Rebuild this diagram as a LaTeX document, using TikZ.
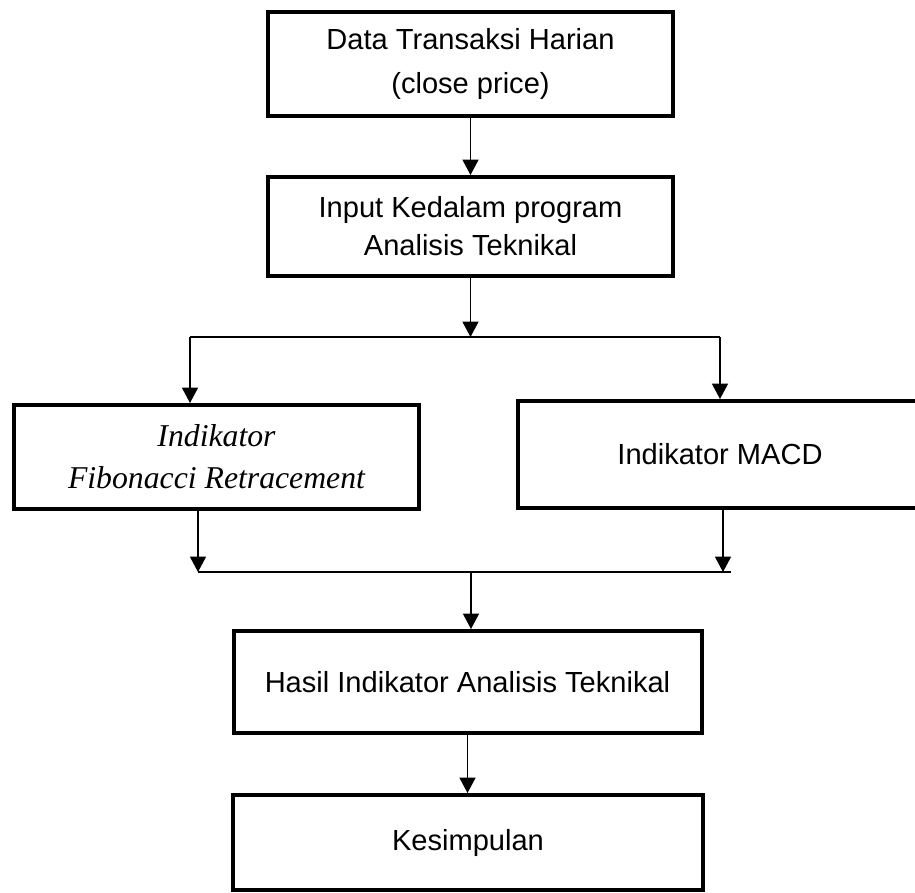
\documentclass[tikz,border=0pt]{standalone}
\usepackage{fontspec}
\usetikzlibrary{arrows.meta}
\newfontfamily\arialf{Liberation Sans}
\newfontfamily\timesf{Liberation Serif}
\tikzset{
	kotak/.style={draw, line width=3pt, inner sep=0pt, align=center},
	teks/.style={font=\arialf\fontsize{21.8}{33}\selectfont},
	panah/.style={line width=1pt, -{Triangle[width=12pt,length=11.5pt]}},
	garis/.style={line width=1pt}
}
\begin{document}
\begin{tikzpicture}[x=0.75pt,y=-0.75pt]
		\useasboundingbox (0,0) rectangle (915,893);
		\clip (0,0) rectangle (915,893);
		%%%
		\node[kotak, teks, minimum width=303.75pt, minimum height=78pt] (data) at (470.5,64) {Data Transaksi Harian\\(close price)};
		\node[kotak, font=\arialf\fontsize{21.8}{28.5}\selectfont, minimum width=303.75pt, minimum height=74.25pt] (input) at (470.5,226.5) {Input Kedalam program\\Analisis Teknikal};
		%%%
		\node[kotak, font=\timesf\itshape\fontsize{23.8}{31.5}\selectfont, minimum width=303.75pt, minimum height=78pt] (fibo) at (216.5,457) {Indikator\\Fibonacci Retracement};
		\node[kotak, teks, minimum width=303pt, minimum height=80.25pt] (macd) at (720,454.5) {Indikator MACD};
		%%%
		\node[kotak, teks, minimum width=351pt, minimum height=76.5pt] (hasil) at (467.5,682) {Hasil Indikator Analisis Teknikal};
		\node[kotak, teks, minimum width=352.5pt, minimum height=71.25pt] (simpul) at (468,842.5) {Kesimpulan};
		%%%
		\coordinate (cabang) at (470.5,337);
		\coordinate (kiriA) at (190,337);
		\coordinate (kananA) at (720,337);
		\coordinate (kiriB) at (198,572);
		\coordinate (kananB) at (723,572);
		\coordinate (gabung) at (471,572);
		%%%
		\draw[panah] (data.south) -- (input.north);
		\draw[panah] (input.south) -- (cabang);
		\draw[garis] (kiriA) -- (kananA);
		\draw[panah] (kiriA) -- (kiriA |- fibo.north);
		\draw[panah] (kananA) -- (kananA |- macd.north);
		%%%
		\draw[panah] (fibo.south -| kiriB) -- (kiriB);
		\draw[panah] (macd.south -| kananB) -- (kananB);
		\draw[garis] (kiriB) -- ++(533,0);
		\draw[panah] (gabung) -- (gabung |- hasil.north);
		\draw[panah] (hasil.south) -- (hasil.south |- simpul.north);
	\end{tikzpicture}
\end{document}
